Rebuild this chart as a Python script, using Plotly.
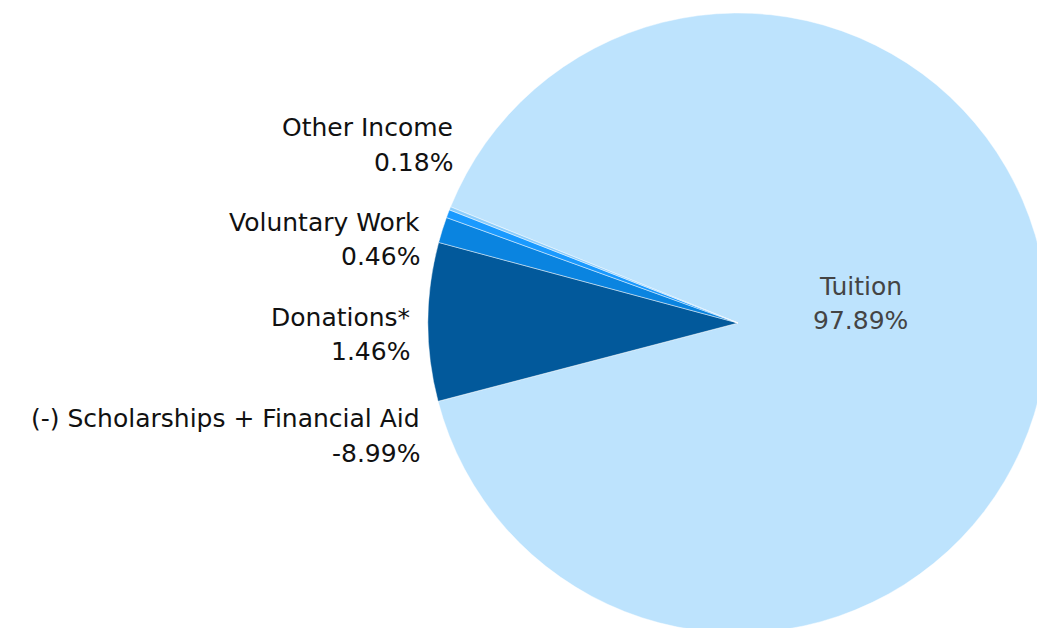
import plotly.graph_objects as go

labels = ["Tuition", "(-) Scholarships + Financial Aid", "Donations*", "Voluntary Work", "Other Income"]
percents = [97.89, -8.99, 1.46, 0.46, 0.18]
colors = ["#bde3fd", "#02599b", "#0a84e0", "#1a9aff", "#8ccdfb"]
slice_sizes = [abs(p) for p in percents]

W, H = 1060, 640

fig = go.Figure(go.Pie(
    labels=labels,
    values=slice_sizes,
    sort=False,
    direction="clockwise",
    rotation=-68,
    marker=dict(colors=colors, line=dict(color="rgba(255,255,255,0.45)", width=1)),
    textinfo="none",
    hoverinfo="label",
    showlegend=False,
    domain=dict(x=[428 / W, 1048 / W], y=[1 - 633 / H, 1 - 13 / H]),
))

# label positions in pixels (right edge / centre, line-1 y, line-2 y)
label_pos = {
    "Other Income": (455, 128, 162, "right"),
    "Voluntary Work": (422, 222, 256, "right"),
    "Donations*": (412, 317, 351, "right"),
    "(-) Scholarships + Financial Aid": (422, 418, 453, "right"),
    "Tuition": (860, 286, 320, "center"),
}
font_family = "DejaVu Sans"
annotations = []
for lab, p in zip(labels, percents):
    x, y1, y2, anchor = label_pos[lab]
    col = "#444444" if lab == "Tuition" else "#111111"
    for txt, yy in ((lab, y1), (f"{p:.2f}%", y2)):
        annotations.append(dict(
            text=txt, x=x / W, y=1 - yy / H, xref="paper", yref="paper",
            xanchor=anchor, yanchor="middle", showarrow=False,
            font=dict(family=font_family, size=25, color=col),
        ))

fig.update_layout(
    width=W, height=H,
    margin=dict(l=0, r=0, t=0, b=0),
    paper_bgcolor="white",
    plot_bgcolor="white",
    annotations=annotations,
)

fig.write_html(
    "out.html",
    config=dict(displayModeBar=False),
    post_script="document.body.style.margin='0';document.body.style.overflow='hidden';document.documentElement.style.overflow='hidden';",
)
